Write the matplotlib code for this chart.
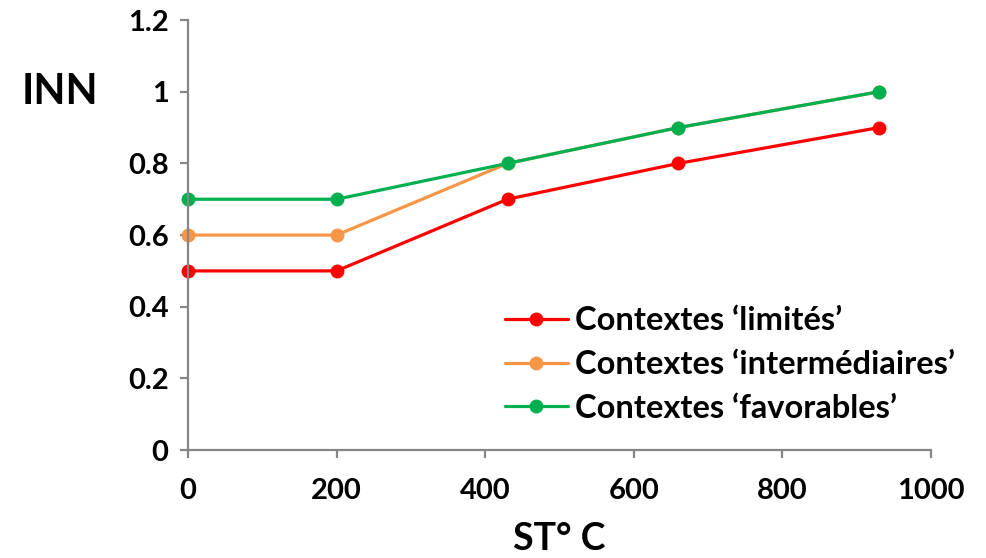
import matplotlib
matplotlib.use("Agg")
import matplotlib.pyplot as plt

# Sum of temperatures (°C) and nitrogen nutrition index per context
st_values = [0, 200, 430, 660, 930]
inn_limited = [0.5, 0.5, 0.7, 0.8, 0.9]
inn_intermediate = [0.6, 0.6, 0.8, 0.9, 1.0]
inn_favourable = [0.7, 0.7, 0.8, 0.9, 1.0]

series_labels = [
    "Contextes \u2018limités\u2019",
    "Contextes \u2018intermédiaires\u2019",
    "Contextes \u2018favorables\u2019",
]
series_colors = ["#FF0000", "#F79646", "#00B050"]

x_ticks = [0, 200, 400, 600, 800, 1000]
y_ticks = [0, 0.2, 0.4, 0.6, 0.8, 1.0, 1.2]
y_tick_labels = ["0", "0.2", "0.4", "0.6", "0.8", "1", "1.2"]

plt.rcParams["font.family"] = ["Lato", "DejaVu Sans"]

fig = plt.figure(figsize=(9.87, 5.58), dpi=100)
ax = fig.add_axes([0.1905, 0.1935, 0.7528, 0.7705])

for vals, lab, col in zip([inn_limited, inn_intermediate, inn_favourable],
                          series_labels, series_colors):
    ax.plot(st_values, vals, color=col, lw=2.3, marker="o", ms=9,
            label=lab, solid_capstyle="round", clip_on=False)

ax.set_xlim(0, 1000)
ax.set_ylim(0, 1.2)
ax.set_xticks(x_ticks)
ax.set_xticklabels([str(t) for t in x_ticks])
ax.set_yticks(y_ticks)
ax.set_yticklabels(y_tick_labels)

for side in ["top", "right"]:
    ax.spines[side].set_visible(False)
for side in ["left", "bottom"]:
    ax.spines[side].set_color("#868686")
    ax.spines[side].set_linewidth(1.6)

ax.tick_params(axis="both", direction="out", length=6, width=1.6,
               color="#868686", labelsize=21, pad=8)
for lbl in ax.get_xticklabels() + ax.get_yticklabels():
    lbl.set_fontweight("bold")
ax.tick_params(axis="x", pad=14)

fig.text(0.022, 0.836, "INN", fontsize=30, fontweight="bold", ha="left", va="center")
ax.set_xlabel("ST\u00b0 C", fontsize=27, fontweight="bold", labelpad=13)

leg = ax.legend(loc="upper left", bbox_to_anchor=(0.4266, 0.334), frameon=False,
                prop={"weight": "bold", "size": 23.5},
                handlelength=1.93, handletextpad=0.2, labelspacing=0.45,
                borderaxespad=0, borderpad=0)

fig.savefig("out.png", dpi=100)
